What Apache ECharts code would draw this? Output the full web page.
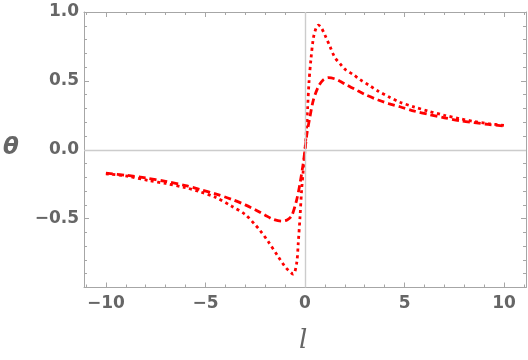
<!DOCTYPE html>
<html>
<head>
<meta charset="utf-8">
<script src="https://cdn.jsdelivr.net/npm/echarts@6/dist/echarts.min.js"></script>
<style>html,body{margin:0;padding:0;background:#fff}#c{width:528px;height:360px}</style>
</head>
<body>
<div id="c"></div>
<script>
// Data
const lDashed = [-10, -9, -8, -7, -6, -5.28, -4.5, -3.68, -3, -2.5, -2, -1.6, -1.17, -0.9, -0.67, -0.42, -0.25, -0.1, 0, 0.1, 0.25, 0.42, 0.67, 0.9, 1.17, 1.5, 1.76, 2.09, 2.5, 3, 3.68, 4.2, 4.77, 5.5, 6.2, 7, 7.79, 8.5, 9.2, 10];
const thetaDashed = [-0.17, -0.185, -0.205, -0.23, -0.26, -0.288, -0.32, -0.36, -0.4, -0.435, -0.475, -0.505, -0.518, -0.51, -0.48, -0.365, -0.244, -0.11, 0, 0.12, 0.24, 0.36, 0.458, 0.505, 0.523, 0.515, 0.497, 0.47, 0.44, 0.402, 0.361, 0.335, 0.312, 0.28, 0.257, 0.232, 0.211, 0.197, 0.184, 0.172];
const lDotted = [-10, -9, -7.79, -7, -6, -5.28, -4.5, -3.68, -3, -2.5, -2.26, -1.84, -1.34, -1, -0.84, -0.59, -0.42, -0.34, -0.25, -0.17, -0.08, 0, 0.08, 0.13, 0.2, 0.3, 0.42, 0.55, 0.67, 0.8, 1.0, 1.26, 1.5, 1.76, 2.0, 2.43, 2.76, 3.2, 3.68, 4.2, 4.77, 5.5, 6.2, 7, 7.79, 8.5, 9.2, 10];
const thetaDotted = [-0.175, -0.19, -0.225, -0.245, -0.275, -0.305, -0.345, -0.41, -0.47, -0.545, -0.585, -0.668, -0.777, -0.85, -0.874, -0.903, -0.825, -0.68, -0.487, -0.293, -0.14, 0, 0.16, 0.3, 0.49, 0.66, 0.81, 0.88, 0.905, 0.89, 0.833, 0.748, 0.67, 0.625, 0.585, 0.545, 0.51, 0.47, 0.425, 0.385, 0.345, 0.31, 0.28, 0.25, 0.225, 0.205, 0.19, 0.177];
const xMajorTicks = [-10, -5, 0, 5, 10];
const xMinorTicks = [-11, -9, -8, -7, -6, -4, -3, -2, -1, 1, 2, 3, 4, 6, 7, 8, 9, 11];
const yMajorTicks = [-0.5, 0, 0.5, 1.0];
const yMinorTicks = [-0.9, -0.8, -0.7, -0.6, -0.4, -0.3, -0.2, -0.1, 0.1, 0.2, 0.3, 0.4, 0.6, 0.7, 0.8, 0.9];

const frameColor = '#a6a6a6';
const labelStyle = {color: '#666666', fontFamily: 'DejaVu Sans', fontWeight: 'bold', fontSize: 17};
const fmtX = v => v < 0 ? '\u2212' + Math.abs(v) : String(v);
const fmtY = v => v < 0 ? '\u2212' + Math.abs(v).toFixed(1) : v.toFixed(1);

function mkAxis(pos, min, max, ticks, len, showLine, labels, fmt, margin) {
  return {
    type: 'value', position: pos, min: min, max: max,
    axisLine: {show: showLine, onZero: false, lineStyle: {color: frameColor, width: 1}},
    axisTick: {show: true, inside: true, length: len, customValues: ticks, lineStyle: {color: frameColor, width: 1}},
    axisLabel: labels ? Object.assign({show: true, customValues: labels, formatter: fmt, margin: margin}, labelStyle) : {show: false},
    splitLine: {show: false}
  };
}

const chart = echarts.init(document.getElementById('c'), null, {renderer: 'canvas'});
chart.setOption({
  animation: false,
  backgroundColor: '#ffffff',
  grid: {left: 84, right: 2, top: 12, bottom: 72.5, containLabel: false},
  xAxis: [
    mkAxis('bottom', -11.1, 11.1, xMajorTicks, 5, true, xMajorTicks, fmtX, 8),
    mkAxis('bottom', -11.1, 11.1, xMinorTicks, 3, false, null),
    mkAxis('top', -11.1, 11.1, xMajorTicks, 5, true, null),
    mkAxis('top', -11.1, 11.1, xMinorTicks, 3, false, null)
  ],
  yAxis: [
    mkAxis('left', -1, 1, yMajorTicks, 5, true, yMajorTicks, fmtY, 5),
    mkAxis('left', -1, 1, yMinorTicks, 3, false, null),
    mkAxis('right', -1, 1, yMajorTicks, 5, true, null),
    mkAxis('right', -1, 1, yMinorTicks, 3, false, null)
  ],
  graphic: [
    {type: 'text', x: 3, y: 137, style: {text: '\u03B8', font: 'italic bold 23px "DejaVu Sans"', fill: '#666666'}},
    {type: 'text', x: 299, y: 328, style: {text: 'l', font: 'italic 26px "DejaVu Serif"', fill: '#666666'}}
  ],
  series: [
    {
      type: 'line', xAxisIndex: 0, yAxisIndex: 0, data: [], z: 1, silent: true, showSymbol: false,
      markLine: {symbol: 'none', silent: true, animation: false, label: {show: false},
        lineStyle: {color: '#cccccc', width: 1.4, type: 'solid'},
        data: [{xAxis: 0}, {yAxis: 0}]}
    },
    {
      type: 'line', xAxisIndex: 0, yAxisIndex: 0, z: 3, showSymbol: false, smooth: 0.3,
      data: lDashed.map((l, i) => [l, thetaDashed[i]]),
      lineStyle: {color: '#ff0000', width: 2.8, type: [7, 4], cap: 'butt'}
    },
    {
      type: 'line', xAxisIndex: 0, yAxisIndex: 0, z: 3, showSymbol: false, smooth: 0.3,
      data: lDotted.map((l, i) => [l, thetaDotted[i]]),
      lineStyle: {color: '#ff0000', width: 2.8, type: [3, 3.5], cap: 'butt'}
    }
  ]
});
</script>
</body>
</html>
